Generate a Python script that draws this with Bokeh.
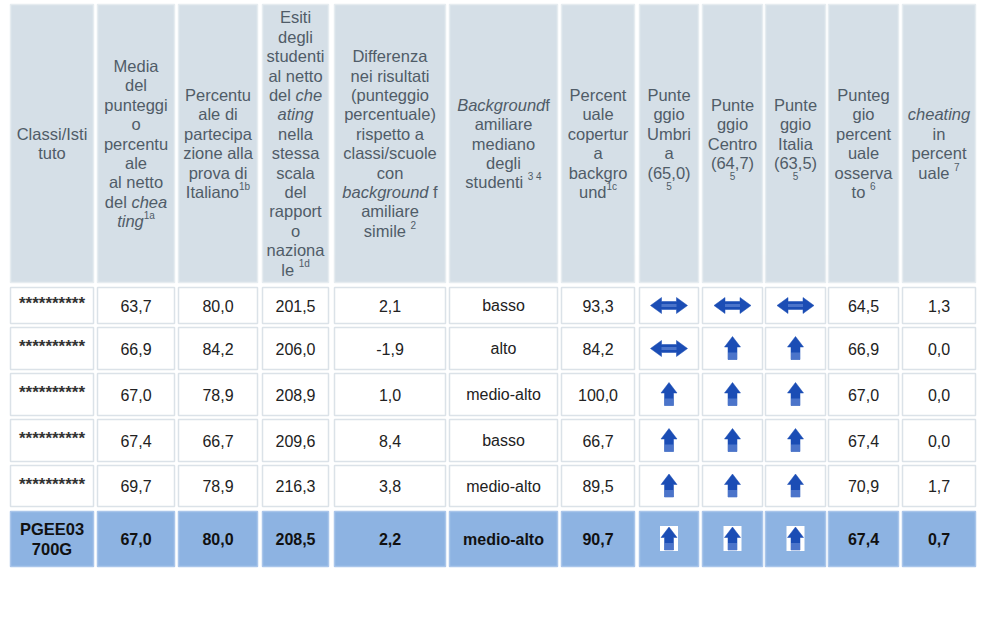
from bokeh.plotting import figure
from bokeh.models import Range1d, ColumnDataSource
from bokeh.core.properties import value
from bokeh.embed import file_html
from bokeh.resources import INLINE

# ---------------- data ----------------
header = [
    ["Classi/Isti", "tuto"],
    ["Media", "del", "punteggi", "o", "percentu", "ale", "al netto", "del *chea*", "*ting*^1a"],
    ["Percentu", "ale di", "partecipa", "zione alla", "prova di", "Italiano^1b"],
    ["Esiti", "degli", "studenti", "al netto", "del *che*", "*ating*", "nella", "stessa",
     "scala", "del", "rapport", "o", "naziona", "le ^1d"],
    ["Differenza", "nei risultati", "(punteggio", "percentuale)", "rispetto a",
     "classi/scuole", "con", "*background* f", "amiliare", "simile ^2"],
    ["*Background*f", "amiliare", "mediano", "degli", "studenti ^3 4"],
    ["Percent", "uale", "copertur", "a", "backgro", "und^1c"],
    ["Punte", "ggio", "Umbri", "a", "(65,0)", "^5"],
    ["Punte", "ggio", "Centro", "(64,7)", "^5"],
    ["Punte", "ggio", "Italia", "(63,5)", "^5"],
    ["Punteg", "gio", "percent", "uale", "osserva", "to ^6"],
    ["*cheating*", "in", "percent", "uale ^7"],
]

classi = ["**********", "**********", "**********", "**********", "**********", "PGEE03\n700G"]
media = [63.7, 66.9, 67.0, 67.4, 69.7, 67.0]
partecipazione = [80.0, 84.2, 78.9, 66.7, 78.9, 80.0]
esiti = [201.5, 206.0, 208.9, 209.6, 216.3, 208.5]
differenza = [2.1, -1.9, 1.0, 8.4, 3.8, 2.2]
background = ["basso", "alto", "medio-alto", "basso", "medio-alto", "medio-alto"]
copertura = [93.3, 84.2, 100.0, 66.7, 89.5, 90.7]
umbria = ["eq", "eq", "up", "up", "up", "up"]
centro = ["eq", "up", "up", "up", "up", "up"]
italia = ["eq", "up", "up", "up", "up", "up"]
osservato = [64.5, 66.9, 67.0, 67.4, 70.9, 67.4]
cheating = [1.3, 0.0, 0.0, 0.0, 1.7, 0.7]
highlight = [False, False, False, False, False, True]

# ---------------- layout ----------------
col_left = [10, 97, 178, 262, 334, 449, 561, 639, 702, 765, 828, 902]
col_right = [93, 174, 257, 328, 445, 557, 634, 698, 762, 825, 898, 975]
head_top, head_bot = 4, 282
row_top = [287, 327, 373, 419, 465, 511]
row_bot = [323, 369, 415, 461, 506, 566]
LINE_H = 19.4
HFS = 16.5     # header font size
SFS = 10       # superscript font size
DFS = 16       # data font size
FONT = "Liberation Sans"

HEAD_FILL = "#d5dfe7"
HEAD_LINE = "#e6ecf0"
CELL_LINE = "#dbe2e8"
HL_FILL = "#8db3e2"
HL_LINE = "#a9c5ea"
HEAD_TXT = "#505c68"
DATA_TXT = "#222222"
ARROW = "#1b4db5"
ARROW_LIGHT = "#6d90d8"

AW = {' ': 278, '!': 278, '(': 333, ')': 333, '*': 389, ',': 278, '-': 333, '.': 278, '/': 278}
for d in "0123456789":
    AW[d] = 556
AW.update(dict(zip("ABCDEFGHIJKLMNOPQRSTUVWXYZ",
                   [667, 667, 722, 722, 667, 611, 778, 722, 278, 500, 667, 556, 833, 722, 778,
                    667, 778, 722, 667, 611, 722, 667, 944, 667, 667, 611])))
AW.update(dict(zip("abcdefghijklmnopqrstuvwxyz",
                   [556, 556, 500, 556, 556, 278, 556, 556, 222, 222, 500, 222, 833, 556, 556,
                    556, 556, 333, 500, 278, 556, 500, 722, 500, 500, 500])))


def tw(s, size):
    return sum(AW.get(c, 556) for c in s) * size / 1000.0


W, H = 980, 614
p = figure(width=W, height=H, x_range=Range1d(0, W), y_range=Range1d(H, 0),
           output_backend="svg", toolbar_location=None, x_axis_location=None,
           y_axis_location=None, min_border=0)
p.grid.visible = False
p.outline_line_color = None
p.background_fill_color = "white"
p.border_fill_color = "white"

# header cells
p.quad(left=col_left, right=col_right, top=[head_top] * 12, bottom=[head_bot] * 12,
       fill_color=HEAD_FILL, line_color=HEAD_LINE, line_width=1.5)

# body cells
ql, qr, qt, qb, qf, qc = [], [], [], [], [], []
for r in range(len(row_top)):
    for c in range(12):
        ql.append(col_left[c]); qr.append(col_right[c])
        qt.append(row_top[r]); qb.append(row_bot[r])
        qf.append(HL_FILL if highlight[r] else "white")
        qc.append(HL_LINE if highlight[r] else CELL_LINE)
p.quad(left=ql, right=qr, top=qt, bottom=qb, fill_color=qf, line_color=qc, line_width=1.5)

# text collection
T = dict(x=[], y=[], text=[], size=[], style=[], color=[], align=[])


def add(x, y, s, size, style, color, align):
    T["x"].append(x); T["y"].append(y); T["text"].append(s)
    T["size"].append(f"{size}px"); T["style"].append(style)
    T["color"].append(color); T["align"].append(align)


head_mid = (head_top + head_bot) / 2.0
for c, lines in enumerate(header):
    cx = (col_left[c] + col_right[c]) / 2.0
    n = len(lines)
    for i, line in enumerate(lines):
        y = head_mid + (i - (n - 1) / 2.0) * LINE_H
        if "^" in line:
            main, sup = line.split("^", 1)
        else:
            main, sup = line, ""
        segs = []
        for k, part in enumerate(main.split("*")):
            if part:
                segs.append((part, "italic" if k % 2 else "normal", HFS, 0))
        if sup:
            segs.append((sup, "normal", SFS, -6))
        total = sum(tw(s, sz) for s, _, sz, _ in segs)
        x0 = cx - total / 2.0
        for s, st, sz, dy in segs:
            body = s.strip()
            lead = len(s) - len(s.lstrip())
            if body:
                add(x0 + tw(" " * lead, sz), y + dy, body, sz, st, HEAD_TXT, "left")
            x0 += tw(s, sz)


def fmt(v):
    return f"{v:.1f}".replace(".", ",")


num_cols = {1: media, 2: partecipazione, 3: esiti, 4: differenza, 6: copertura,
            10: osservato, 11: cheating}
arrow_cols = {7: umbria, 8: centro, 9: italia}

eq_x, eq_y, up_x, up_y, lt_x, lt_y = [], [], [], [], [], []
box_l, box_r, box_t, box_b = [], [], [], []
for r in range(len(row_top)):
    cy = (row_top[r] + row_bot[r]) / 2.0
    hl = highlight[r]
    style = "bold" if hl else "normal"
    color = "#111111" if hl else DATA_TXT
    # first column
    cx = (col_left[0] + col_right[0]) / 2.0
    parts = classi[r].split("\n")
    if len(parts) == 1:
        add(cx, cy - 2, parts[0], 17, "bold", "#333333", "center")
    else:
        for i, s in enumerate(parts):
            add(cx, cy + (i - (len(parts) - 1) / 2.0) * 20, s, 16.5, "bold", "#111111", "center")
    for c, arr in num_cols.items():
        cx = (col_left[c] + col_right[c]) / 2.0
        add(cx, cy, fmt(arr[r]), DFS, style, color, "center")
    cx = (col_left[5] + col_right[5]) / 2.0
    add(cx, cy, background[r], DFS, style, color, "center")
    for c, arr in arrow_cols.items():
        cx = (col_left[c] + col_right[c]) / 2.0
        if arr[r] == "eq":
            eq_x.append([cx + dx for dx in (-18.5, -7.5, -7.5, 7.5, 7.5, 18.5, 7.5, 7.5, -7.5, -7.5)])
            eq_y.append([cy + dy for dy in (0, -8, -4, -4, -8, 0, 8, 4, 4, 8)])
            lt_x.append([cx - 7.5, cx + 7.5, cx + 7.5, cx - 7.5])
            lt_y.append([cy - 1.5, cy - 1.5, cy + 1.5, cy + 1.5])
        else:
            if hl:
                box_l.append(cx - 9); box_r.append(cx + 9)
                box_t.append(cy - 13); box_b.append(cy + 12)
            up_x.append([cx + dx for dx in (0, 8, 4.5, 4.5, -4.5, -4.5, -8)])
            up_y.append([cy + dy for dy in (-12, -1.5, -1.5, 11, 11, -1.5, -1.5)])
            lt_x.append([cx - 4.5, cx + 4.5, cx + 4.5, cx - 4.5])
            lt_y.append([cy + 4, cy + 4, cy + 11, cy + 11])

if box_l:
    p.quad(left=box_l, right=box_r, top=box_t, bottom=box_b, fill_color="white", line_color=None)
p.patches(eq_x, eq_y, fill_color=ARROW, line_color=ARROW, line_width=0.5)
p.patches(up_x, up_y, fill_color=ARROW, line_color=ARROW, line_width=0.5)
p.patches(lt_x, lt_y, fill_color=ARROW_LIGHT, fill_alpha=0.6, line_color=None)

src = ColumnDataSource(T)
p.text(x="x", y="y", text="text", source=src, text_font=value(FONT),
       text_font_size="size", text_font_style="style", text_color="color",
       text_align="align", text_baseline="middle")

open("out.html", "w").write(file_html(p, INLINE))
